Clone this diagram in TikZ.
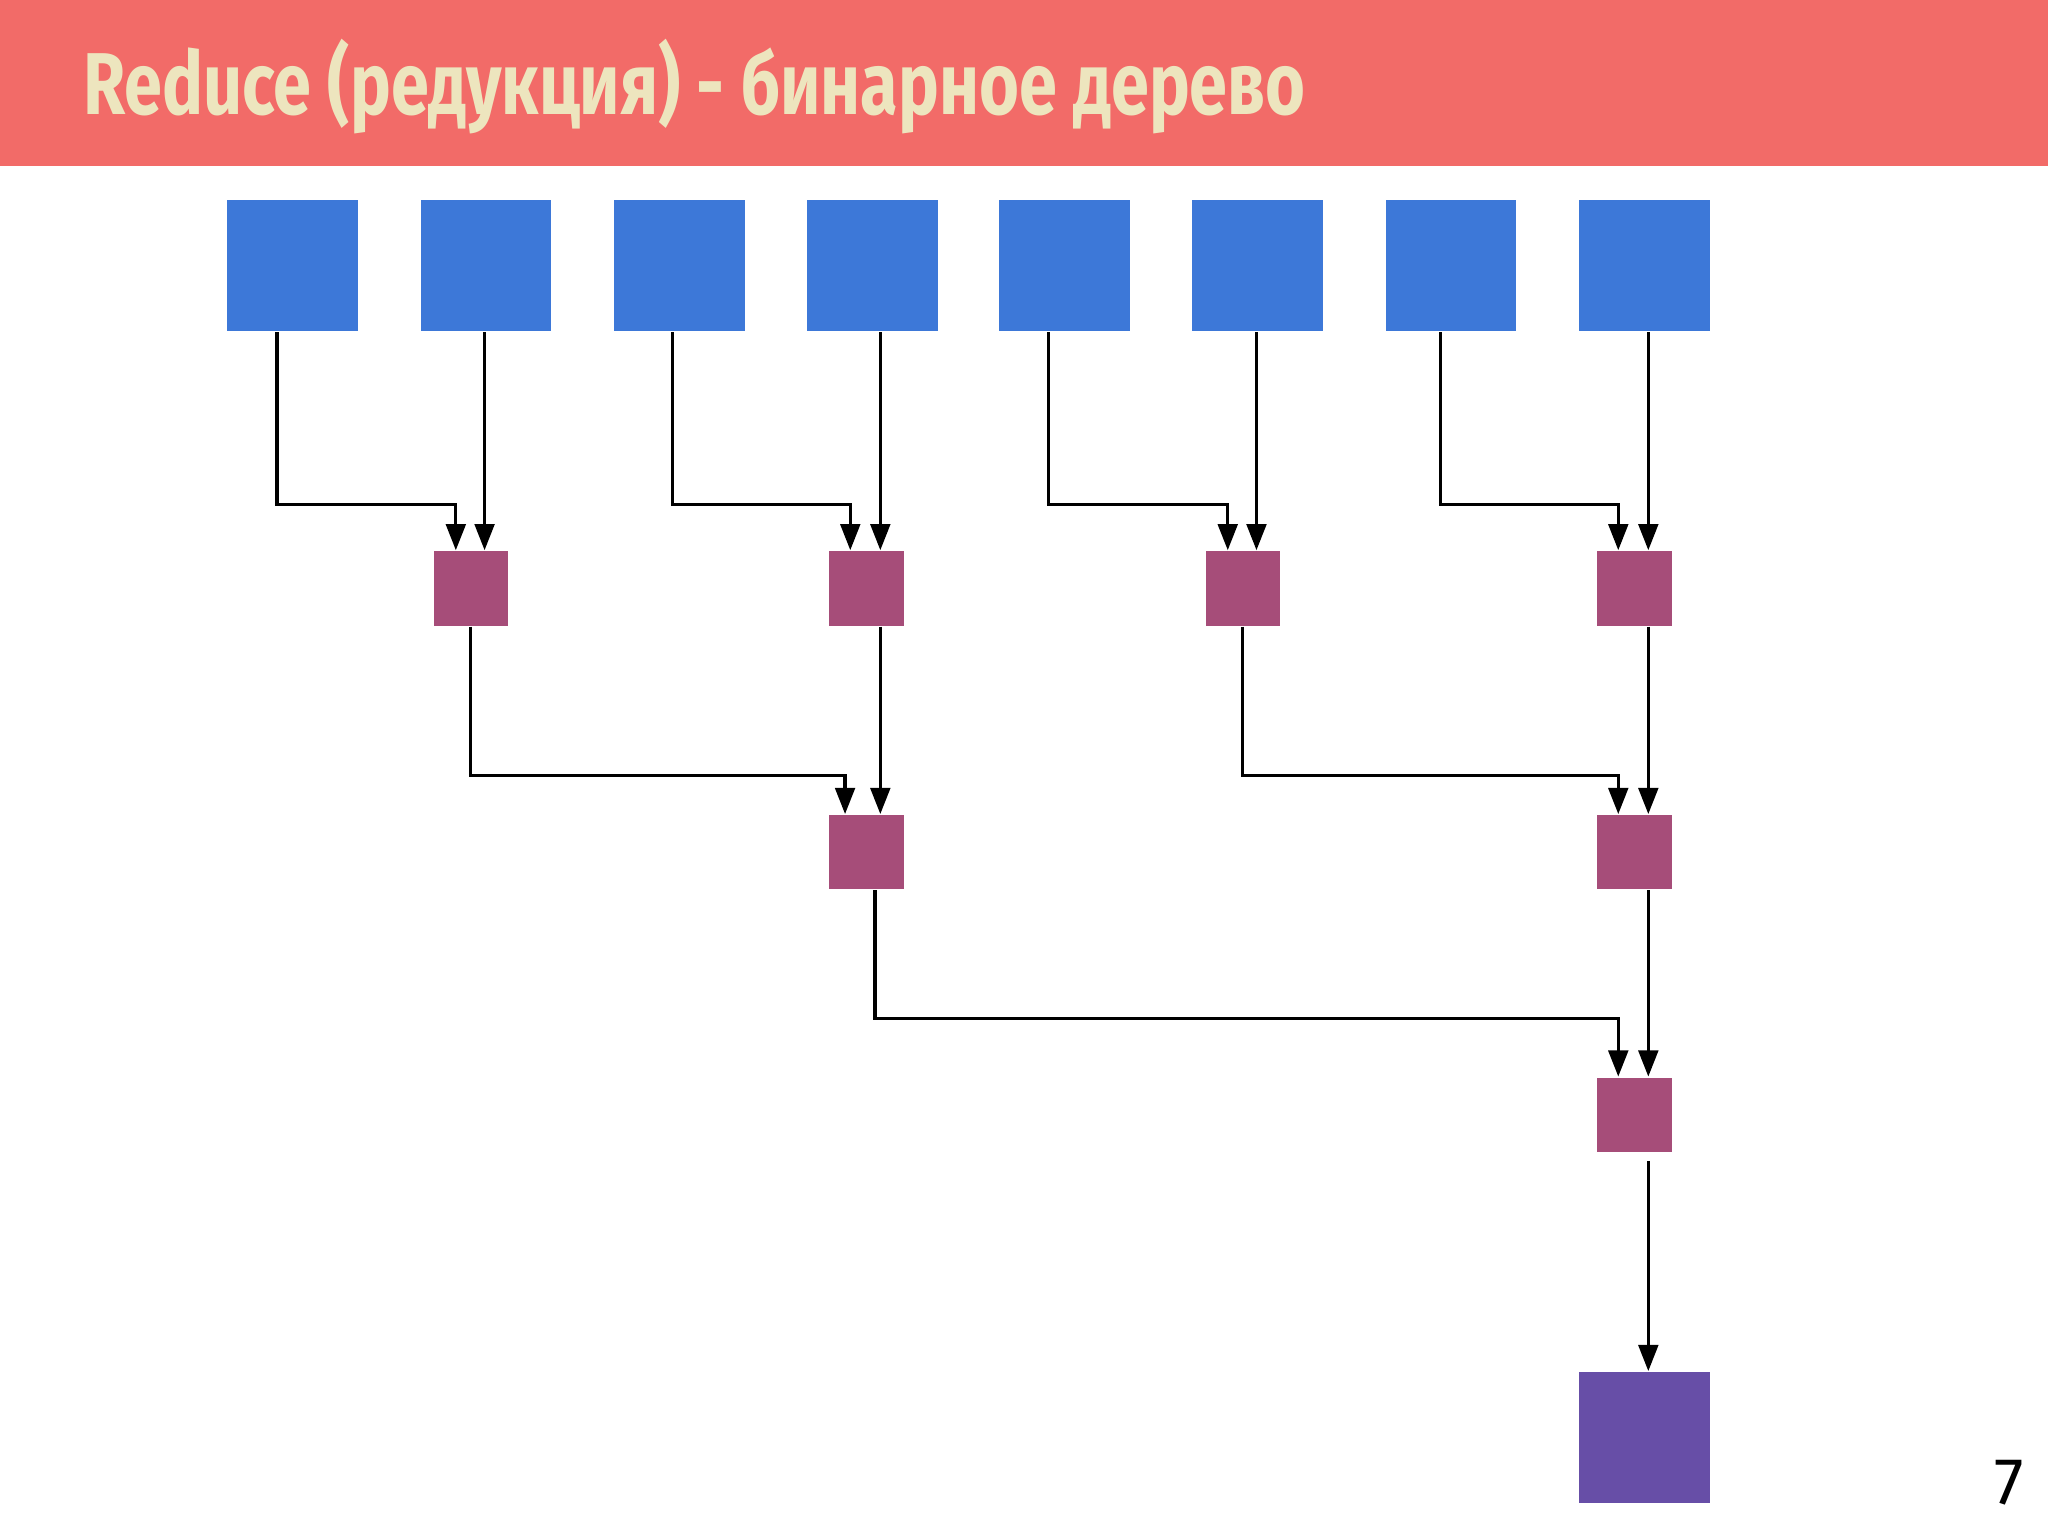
\documentclass[tikz,border=0pt]{standalone}
\usepackage{fontspec}
\setmainfont{Fira Sans}
\usetikzlibrary{arrows.meta}
\definecolor{hdr}{HTML}{F26B68}
\definecolor{ttl}{HTML}{EDE5BE}
\definecolor{leaf}{HTML}{3D78D8}
\definecolor{mid}{HTML}{A64D79}
\definecolor{fin}{HTML}{674EA7}
\tikzset{
 leafbox/.style={fill=leaf,draw=none,minimum width=1cm,minimum height=1cm,inner sep=0pt},
 midbox/.style={fill=mid,draw=none,minimum width=0.57cm,minimum height=0.57cm,inner sep=0pt},
 finbox/.style={fill=fin,draw=none,minimum width=1cm,minimum height=1cm,inner sep=0pt},
 conn/.style={draw=black,line width=0.7pt,-{Triangle[length=0.2cm,width=0.15cm]}}
}
\begin{document}
\begin{tikzpicture}[x=0.01cm,y=-0.01cm]
\useasboundingbox (0,0) rectangle (1568,1176);
\fill[hdr] (0,0) rectangle (1568,127);
\node[anchor=base west,inner sep=0pt,text=ttl,font=\bfseries] (title) at (63,88)
 {\resizebox{9.35cm}{!}{\scalebox{0.78}[1]{Reduce (редукция) - бинарное дерево}}};
\foreach \i/\x in {1/224,2/372,3/520,4/668,5/815,6/963,7/1111,8/1259}
 \node[leafbox] (b\i) at (\x,203.5) {};
\node[midbox] (m1) at (360.5,450.5) {};
\node[midbox] (m2) at (663.5,450.5) {};
\node[midbox] (m3) at (951.5,450.5) {};
\node[midbox] (m4) at (1251.5,450.5) {};
\node[midbox] (n1) at (663.5,652.5) {};
\node[midbox] (n2) at (1251.5,652.5) {};
\node[midbox] (r1) at (1251.5,853.5) {};
\node[finbox] (f) at (1259,1100.5) {};
\node[anchor=base,font=\Large] (pg) at (1538,1152) {7};
% level 1
\draw[conn] (b1.south -| 212,0) |- (349,386) -- (m1.north -| 349,0);
\draw[conn] (b2.south -| 371,0) -- (m1.north -| 371,0);
\draw[conn] (b3.south -| 515,0) |- (651,386) -- (m2.north -| 651,0);
\draw[conn] (b4.south -| 674,0) -- (m2.north -| 674,0);
\draw[conn] (b5.south -| 803,0) |- (940,386) -- (m3.north -| 940,0);
\draw[conn] (b6.south -| 962,0) -- (m3.north -| 962,0);
\draw[conn] (b7.south -| 1103,0) |- (1239,386) -- (m4.north -| 1239,0);
\draw[conn] (b8.south -| 1262,0) -- (m4.north -| 1262,0);
% level 2
\draw[conn] (m1.south -| 360,0) |- (647,594) -- (n1.north -| 647,0);
\draw[conn] (m2.south -| 674,0) -- (n1.north -| 674,0);
\draw[conn] (m3.south -| 951,0) |- (1239,594) -- (n2.north -| 1239,0);
\draw[conn] (m4.south -| 1262,0) -- (n2.north -| 1262,0);
% level 3
\draw[conn] (n1.south -| 670,0) |- (1239,780) -- (r1.north -| 1239,0);
\draw[conn] (n2.south -| 1262,0) -- (r1.north -| 1262,0);
% final
\draw[conn] ([yshift=-0.06cm]r1.south -| 1262,0) -- (f.north -| 1262,0);
\end{tikzpicture}
\end{document}
